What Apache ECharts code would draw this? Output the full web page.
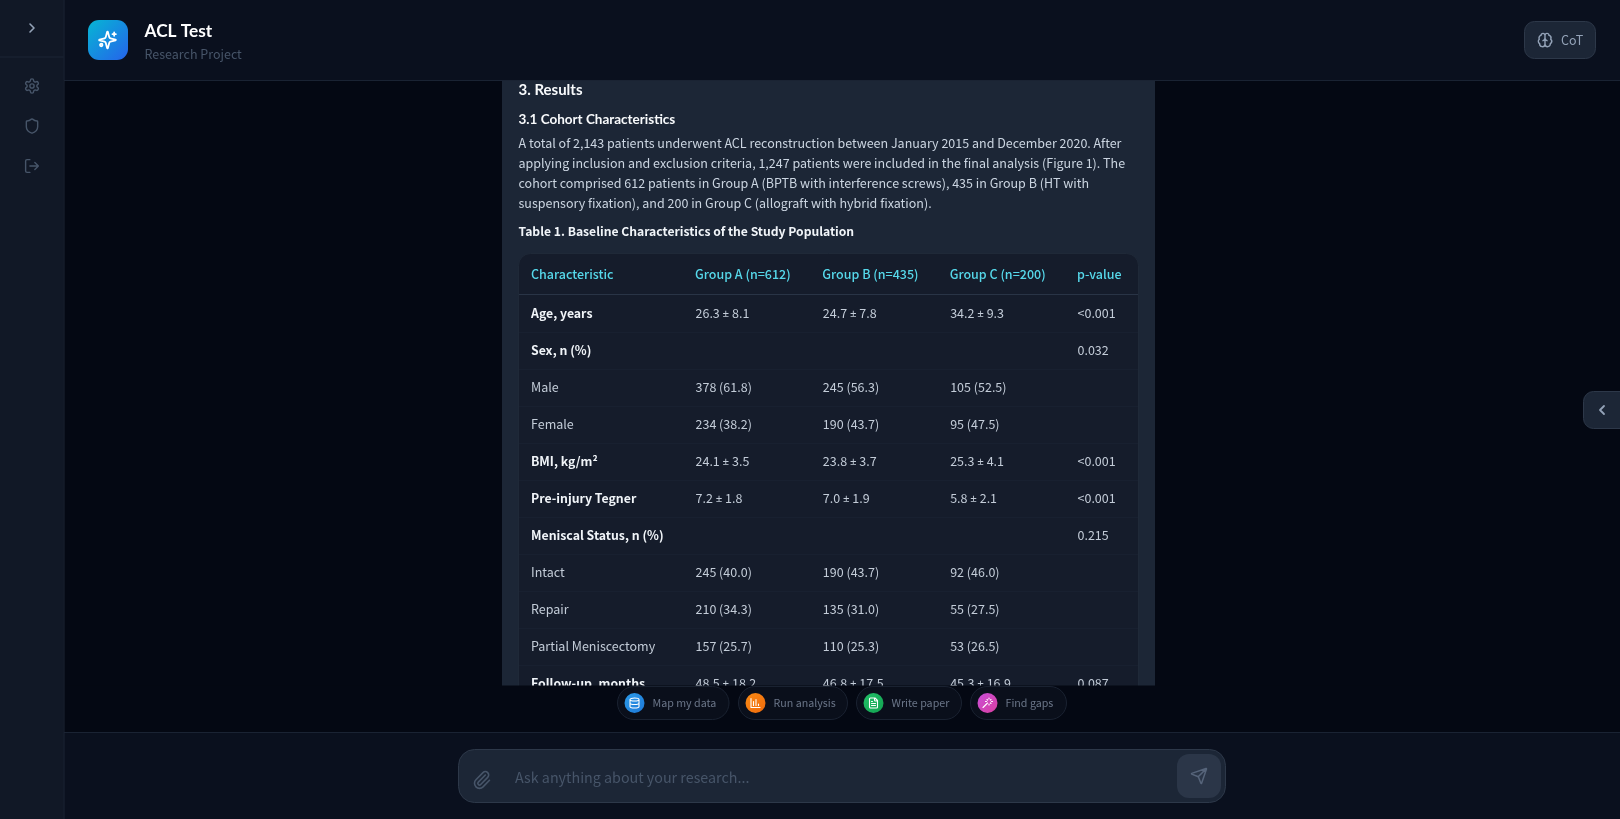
<!DOCTYPE html>
<html>
<head>
<meta charset="utf-8">
<title>ACL Test</title>
<script src="https://cdn.jsdelivr.net/npm/echarts@6/dist/echarts.min.js"></script>
<style>
  html, body { margin: 0; padding: 0; background: #040813; overflow: hidden; }
  #main { width: 1620px; height: 819px; }
</style>
</head>
<body>
<div id="main"></div>
<script>
// table contents
var columns = ['Group A (n=612)', 'Group B (n=435)', 'Group C (n=200)', 'p-value'];
var rowLabels = ['Age, years', 'Sex, n (%)', 'Male', 'Female', 'BMI, kg/m²', 'Pre-injury Tegner',
  'Meniscal Status, n (%)', 'Intact', 'Repair', 'Partial Meniscectomy', 'Follow-up, months'];
var boldRows = ['Age, years', 'Sex, n (%)', 'BMI, kg/m²', 'Pre-injury Tegner', 'Meniscal Status, n (%)', 'Follow-up, months'];
var groupA = ['26.3 ± 8.1', '', '378 (61.8)', '234 (38.2)', '24.1 ± 3.5', '7.2 ± 1.8', '', '245 (40.0)', '210 (34.3)', '157 (25.7)', '48.5 ± 18.2'];
var groupB = ['24.7 ± 7.8', '', '245 (56.3)', '190 (43.7)', '23.8 ± 3.7', '7.0 ± 1.9', '', '190 (43.7)', '135 (31.0)', '110 (25.3)', '46.8 ± 17.5'];
var groupC = ['34.2 ± 9.3', '', '105 (52.5)', '95 (47.5)', '25.3 ± 4.1', '5.8 ± 2.1', '', '92 (46.0)', '55 (27.5)', '53 (26.5)', '45.3 ± 16.9'];
var pValues = ['<0.001', '0.032', '', '', '<0.001', '<0.001', '0.215', '', '', '', '0.087'];

// page text
var paragraph = [
  'A total of 2,143 patients underwent ACL reconstruction between January 2015 and December 2020. After',
  'applying inclusion and exclusion criteria, 1,247 patients were included in the final analysis (Figure 1). The',
  'cohort comprised 612 patients in Group A (BPTB with interference screws), 435 in Group B (HT with',
  'suspensory fixation), and 200 in Group C (allograft with hybrid fixation).'
];
var chipLabels = ['Map my data', 'Run analysis', 'Write paper', 'Find gaps'];

var BODY = '"Noto Sans CJK JP", "Noto Sans", sans-serif';
var HEAD = 'Lato, "Noto Sans", sans-serif';

var ICONS = {
  chevronRight: 'M9 18l6-6-6-6',
  chevronLeft: 'M15 18l-6-6 6-6',
  settings: 'M12.22 2h-.44a2 2 0 0 0-2 2v.18a2 2 0 0 1-1 1.73l-.43.25a2 2 0 0 1-2 0l-.15-.08a2 2 0 0 0-2.73.73l-.22.38a2 2 0 0 0 .73 2.73l.15.1a2 2 0 0 1 1 1.72v.51a2 2 0 0 1-1 1.74l-.15.09a2 2 0 0 0-.73 2.73l.22.38a2 2 0 0 0 2.73.73l.15-.08a2 2 0 0 1 2 0l.43.25a2 2 0 0 1 1 1.73V20a2 2 0 0 0 2 2h.44a2 2 0 0 0 2-2v-.18a2 2 0 0 1 1-1.73l.43-.25a2 2 0 0 1 2 0l.15.08a2 2 0 0 0 2.73-.73l.22-.39a2 2 0 0 0-.73-2.73l-.15-.08a2 2 0 0 1-1-1.74v-.5a2 2 0 0 1 1-1.74l.15-.09a2 2 0 0 0 .73-2.73l-.22-.38a2 2 0 0 0-2.73-.73l-.15.08a2 2 0 0 1-2 0l-.43-.25a2 2 0 0 1-1-1.73V4a2 2 0 0 0-2-2z M12 9a3 3 0 1 0 0 6a3 3 0 1 0 0-6z',
  shield: 'M20 13c0 5-3.5 7.5-7.66 8.95a1 1 0 0 1-.67-.01C7.5 20.5 4 18 4 13V6a1 1 0 0 1 1-1c2 0 4.5-1.2 6.24-2.72a1.17 1.17 0 0 1 1.52 0C14.51 3.81 17 5 19 5a1 1 0 0 1 1 1z',
  logout: 'M9 21H5a2 2 0 0 1-2-2V5a2 2 0 0 1 2-2h4 M16 17l5-5-5-5 M21 12H9',
  sparkles: 'M9.937 15.5A2 2 0 0 0 8.5 14.063l-6.135-1.582a.5.5 0 0 1 0-.962L8.5 9.936A2 2 0 0 0 9.937 8.5l1.582-6.135a.5.5 0 0 1 .963 0L14.063 8.5A2 2 0 0 0 15.5 9.937l6.135 1.581a.5.5 0 0 1 0 .964L15.5 14.063a2 2 0 0 0-1.437 1.437l-1.582 6.135a.5.5 0 0 1-.963 0z M20 3v4 M22 5h-4 M3 18a1.5 1.5 0 1 0 3 0a1.5 1.5 0 1 0-3 0z',
  brain: 'M12 5a3 3 0 1 0-5.997.125 4 4 0 0 0-2.526 5.77 4 4 0 0 0 .556 6.588A4 4 0 1 0 12 18Z M12 5a3 3 0 1 1 5.997.125 4 4 0 0 1 2.526 5.77 4 4 0 0 1-.556 6.588A4 4 0 1 1 12 18Z M12 5v13 M15 13a4.5 4.5 0 0 1-3-4 4.5 4.5 0 0 1-3 4',
  database: 'M3 5a9 3 0 1 0 18 0a9 3 0 1 0-18 0 M3 5V19A9 3 0 0 0 21 19V5 M3 12A9 3 0 0 0 21 12',
  chart: 'M3 3v18h18 M8 17V9 M13 17V5 M18 17v-3',
  file: 'M15 2H6a2 2 0 0 0-2 2v16a2 2 0 0 0 2 2h12a2 2 0 0 0 2-2V7Z M14 2v4a2 2 0 0 0 2 2h4 M10 9H8 M16 13H8 M16 17H8',
  wand: 'M15 4V2 M15 16v-2 M8 9h2 M20 9h2 M17.8 11.8 19 13 M17.8 6.2 19 5 M3 21l9-9 M12.2 6.2 11 5',
  clip: 'M13.234 20.252 21 12.3 M16 6l-8.414 8.586a2 2 0 0 0 0 2.828 2 2 0 0 0 2.828 0l8.414-8.586a4 4 0 0 0 0-5.656 4 4 0 0 0-5.656 0l-8.415 8.585a6 6 0 1 0 8.486 8.486',
  send: 'M14.536 21.686a.5.5 0 0 0 .937-.024l6.5-19a.496.496 0 0 0-.635-.635l-19 6.5a.5.5 0 0 0-.024.937l7.93 3.18a2 2 0 0 1 1.112 1.11z M21.854 2.147l-10.94 10.939'
};
// the graphic component has no plain path type, so each icon gets its own shape
Object.keys(ICONS).forEach(function (name) {
  echarts.graphic.registerShape('icon-' + name, echarts.graphic.extendPath(ICONS[name]));
});

function rect(x, y, w, h, fill, opts) {
  opts = opts || {};
  return {
    type: 'rect', silent: true, z: opts.z === undefined ? -10 : opts.z,
    shape: { x: x, y: y, width: w, height: h, r: opts.r || 0 },
    style: { fill: fill, stroke: opts.stroke || null, lineWidth: opts.stroke ? 1 : 0 }
  };
}
function text(str, x, y, size, weight, color, font, z) {
  return {
    type: 'text', silent: true, z: z === undefined ? 60 : z, x: x, y: y,
    style: {
      text: str, fill: color, font: weight + ' ' + size + 'px ' + (font || BODY),
      align: 'left', verticalAlign: 'middle', textAlign: 'left', textVerticalAlign: 'middle'
    }
  };
}
function icon(name, cx, cy, size, color, width) {
  var s = size / 24;
  return {
    type: 'icon-' + name, silent: true, z: 60, x: cx - size / 2, y: cy - size / 2, scaleX: s, scaleY: s,
    style: { fill: 'none', stroke: color, lineWidth: width / s, lineCap: 'round', lineJoin: 'round' }
  };
}
function grad(a, b) {
  return { type: 'linear', x: 0, y: 0, x2: 1, y2: 1, colorStops: [{ offset: 0, color: a }, { offset: 1, color: b }] };
}

var els = [];
// behind the table
els.push(rect(502, 80, 653, 610, '#1c2636'));
els.push(rect(518.5, 253.5, 620, 500, '#151c2b', { r: 12, stroke: '#1f2938' }));
els.push(text('3. Results', 518.5, 90.5, 15, 700, '#f8fafc', HEAD, -5));
els.push(text('3.1 Cohort Characteristics', 518.5, 120, 13.5, 700, '#f8fafc', HEAD, -5));
paragraph.forEach(function (line, i) {
  els.push(text(line, 518.5, 143 + i * 20.1, 12.5, 400, '#cbd5e1', BODY, -5));
});
els.push(text('Table 1. Baseline Characteristics of the Study Population', 518.5, 231.5, 12.15, 700, '#f1f5f9', BODY, -5));
els.push(text('Characteristic', 531, 274.5, 12.5, 500, '#56d8ea', BODY, -5));
els.push(rect(519, 294, 619, 1, '#293446', { z: -5 }));
rowLabels.forEach(function (r, i) {
  if (i < rowLabels.length - 1) els.push(rect(519, 332 + i * 37, 619, 1, '#182030', { z: -5 }));
});

// everything that covers the table as it scrolls out of view
els.push(rect(0, 685.5, 1620, 50, '#040813', { z: 40 }));
els.push(rect(0, 0, 1620, 80, '#0a101e', { z: 41 }));
els.push(rect(64, 80, 1556, 1, '#1a2333', { z: 42 }));
els.push(rect(0, 732, 1620, 87, '#0a101e', { z: 41 }));
els.push(rect(64, 732, 1556, 1, '#1a2333', { z: 42 }));
els.push(rect(0, 0, 63.5, 819, '#111826', { z: 43 }));
els.push(rect(63.5, 0, 1, 819, '#1c2534', { z: 44 }));
els.push(rect(0, 56.5, 63.5, 1, '#1c2534', { z: 44 }));

// sidebar
els.push(icon('chevronRight', 32, 28, 16, '#94a3b8', 1.6));
els.push(icon('settings', 32, 86, 17, '#475569', 1.4));
els.push(icon('shield', 32, 126, 17, '#475569', 1.4));
els.push(icon('logout', 32, 166, 17, '#475569', 1.4));

// header
els.push(rect(88, 20, 40, 40, grad('#06b6d4', '#2563eb'), { r: 11, z: 45 }));
els.push(icon('sparkles', 107.5, 40, 20, '#ffffff', 1.8));
els.push(text('ACL Test', 144.5, 31, 17.3, 700, '#ffffff', HEAD));
els.push(text('Research Project', 144.5, 54.5, 12.5, 400, '#475569'));
els.push(rect(1524.5, 21.5, 71, 37, '#1c2636', { r: 10, stroke: '#2d3849', z: 45 }));
els.push(icon('brain', 1545, 40, 16, '#94a3b8', 1.4));
els.push(text('CoT', 1561, 40.5, 12.5, 400, '#94a3b8'));

// right edge tab
els.push(rect(1583.5, 391.5, 50, 37, '#1c2636', { r: 10, stroke: '#2d3849', z: 45 }));
els.push(icon('chevronLeft', 1602, 410, 16, '#94a3b8', 1.8));

// quick action chips
var chipBoxes = [[617.5, 111.5], [738.5, 109], [856.5, 105], [970.5, 96]];
var chipIcons = ['database', 'chart', 'file', 'wand'];
var chipColors = [['#2b9be8', '#1d78d8'], ['#f98a14', '#f06a0c'], ['#22c068', '#12a150'], ['#c94fd8', '#d93fa0']];
chipLabels.forEach(function (label, i) {
  var x = chipBoxes[i][0];
  els.push(rect(x, 686.5, chipBoxes[i][1], 33, '#0a0f1b', { r: 16.5, stroke: '#1a2231', z: 45 }));
  els.push({
    type: 'circle', silent: true, z: 46,
    shape: { cx: x + 17, cy: 703, r: 10 },
    style: { fill: grad(chipColors[i][0], chipColors[i][1]) }
  });
  els.push(icon(chipIcons[i], x + 17, 703, 12, '#ffffff', 1.1));
  els.push(text(label, x + 35, 703, 10.7, 400, '#6b7689'));
});

// input box
els.push(rect(458.5, 749.5, 767, 53, '#1c2636', { r: 16, stroke: '#2d3849', z: 45 }));
els.push(icon('clip', 482, 780, 20, '#475569', 1.6));
els.push(text('Ask anything about your research...', 515, 778, 14.3, 400, '#475569'));
els.push(rect(1177, 754, 44, 44, '#2b3648', { r: 12, z: 46 }));
els.push(icon('send', 1199, 776, 18, '#56647a', 1.5));

// cells come from the arrays above, placed by the two category axes
var cellData = [];
[groupA, groupB, groupC, pValues].forEach(function (col, c) {
  col.forEach(function (v, r) {
    if (v !== '') cellData.push([c, r, v]);
  });
});

var chart = echarts.init(document.getElementById('main'));
chart.setOption({
  animation: false,
  backgroundColor: '#040813',
  textStyle: { fontFamily: BODY },
  grid: { left: 695, right: 1620 - 1077, top: 313.5, height: 370 },
  xAxis: {
    type: 'category', position: 'top', boundaryGap: false, data: columns,
    axisLine: { show: false }, axisTick: { show: false }, splitLine: { show: false },
    axisLabel: {
      interval: 0, align: 'left', verticalAlign: 'middle', margin: 39,
      fontSize: 12.5, fontWeight: 500, color: '#56d8ea', fontFamily: BODY
    }
  },
  yAxis: {
    type: 'category', inverse: true, boundaryGap: false, data: rowLabels,
    axisLine: { show: false }, axisTick: { show: false }, splitLine: { show: false },
    axisLabel: {
      interval: 0, align: 'left', margin: 164,
      formatter: function (v) {
        return (boldRows.indexOf(v) >= 0 ? '{b|' : '{n|') + v + '}';
      },
      rich: {
        b: { fontSize: 12.3, fontWeight: 700, color: '#f1f5f9', fontFamily: BODY },
        n: { fontSize: 12.5, fontWeight: 400, color: '#c3ccd8', fontFamily: BODY }
      }
    }
  },
  series: [{
    type: 'scatter', data: cellData, clip: false, symbolSize: 1, silent: true,
    itemStyle: { color: 'transparent' },
    label: {
      show: true, position: 'right', distance: 0, opacity: 1,
      fontSize: 12.5, color: '#c3ccd8', fontFamily: BODY,
      // the CJK face draws ± full width, so it takes a latin face here
      formatter: function (p) { return p.value[2].replace('±', '{pm|±}'); },
      rich: {
        pm: { fontSize: 11.5, color: '#c3ccd8', fontFamily: '"Noto Sans", sans-serif' }
      }
    }
  }],
  graphic: { elements: els }
});
</script>
</body>
</html>
